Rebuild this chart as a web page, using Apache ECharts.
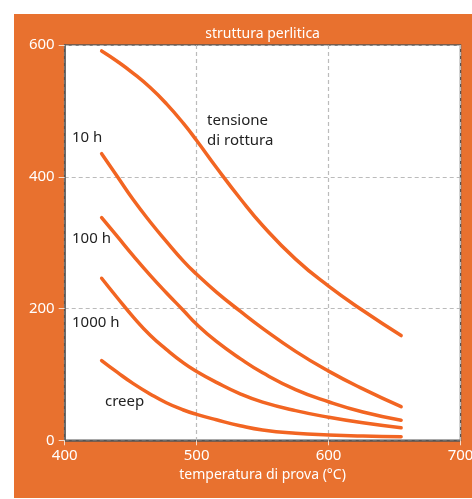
<!DOCTYPE html>
<html>
<head>
<meta charset="utf-8">
<script src="https://cdn.jsdelivr.net/npm/echarts@6/dist/echarts.min.js"></script>
<style>
html,body{margin:0;padding:0;background:#fff;}
#chart{width:472px;height:499px;}
</style>
</head>
<body>
<div id="chart"></div>
<script>
// temperature points (°C) shared by all curves
var temps = [428, 440, 452, 465, 477, 490, 500, 515, 533, 550, 575, 600, 626, 655];
// stress values
var rottura = [591, 575, 557, 535, 511, 481, 455, 414, 367, 326, 275, 234, 197, 159];
var ore10   = [435, 400, 365, 331, 302, 272, 252, 225, 196, 170, 135, 105, 78, 51];
var ore100  = [338, 309, 280, 250, 224, 197, 176, 150, 124, 102.5, 77, 58.5, 43, 30.5];
var ore1000 = [246, 216, 187, 159, 138, 117.5, 104.5, 88, 70.5, 58, 45, 35, 26.5, 19];
var creep   = [121, 103, 86, 70, 57, 46, 39.3, 31.1, 22.1, 15.6, 10.6, 8.1, 6.5, 5.5];

var xTicks = [400, 500, 600, 700];
var yTicks = [0, 200, 400, 600];

var bgOrange = '#E8712F';
var lineOrange = '#F26522';
var font = 'Noto Sans';

function pairs(vals){
	var d = [];
	for(var i = 0; i < temps.length; i++){
		d.push([temps[i], vals[i]]);
	}
	return d;
}

function curve(name, vals){
	return {
		name: name,
		type: 'line',
		smooth: 0.5,
		showSymbol: false,
		silent: true,
		lineStyle: {color: lineOrange, width: 3.5, cap: 'round'},
		data: pairs(vals)
	};
}

var chart = echarts.init(document.getElementById('chart'));

var option = {
	backgroundColor: '#fff',
	animation: false,
	graphic: [
		{type: 'rect', z: -10, shape: {x: 14, y: 14, width: 458, height: 484}, style: {fill: bgOrange}},
		{type: 'text', x: 262.6, y: 34, z: 100,
			style: {text: 'struttura perlitica', fill: '#fff', font: '14px "Noto Sans"', align: 'center', verticalAlign: 'middle'}},
		{type: 'text', left: 207, top: 111, z: 100,
			style: {text: 'tensione\ndi rottura', fill: '#222', font: '15px "Noto Sans"', lineHeight: 20}},
		{type: 'text', left: 72, top: 130, z: 100, style: {text: '10 h', fill: '#222', font: '15px "Noto Sans"'}},
		{type: 'text', left: 72, top: 231, z: 100, style: {text: '100 h', fill: '#222', font: '15px "Noto Sans"'}},
		{type: 'text', left: 72, top: 315, z: 100, style: {text: '1000 h', fill: '#222', font: '15px "Noto Sans"'}},
		{type: 'text', left: 105, top: 394, z: 100, style: {text: 'creep', fill: '#222', font: '15px "Noto Sans"'}}
	],
	grid: {
		left: 64.7, top: 45, right: 11.5, bottom: 58.7,
		outerBoundsMode: 'none',
		containLabel: false,
		show: true,
		backgroundColor: '#fff',
		borderColor: '#555',
		borderWidth: 1.5
	},
	xAxis: {
		type: 'value',
		min: xTicks[0], max: xTicks[xTicks.length-1], interval: 100,
		name: 'temperatura di prova (°C)',
		nameLocation: 'middle',
		nameGap: 25,
		nameTextStyle: {color: '#fff', fontFamily: font, fontSize: 14},
		axisLine: {show: true, lineStyle: {color: '#555', width: 1.5}},
		axisTick: {show: true, length: 5, lineStyle: {color: '#f4dccb'}},
		axisLabel: {color: '#fff', fontFamily: font, fontSize: 15, margin: 8},
		splitLine: {show: true, lineStyle: {color: '#bbb', type: [4, 3], width: 1.2}}
	},
	yAxis: {
		type: 'value',
		min: yTicks[0], max: yTicks[yTicks.length-1], interval: 200,
		axisLine: {show: true, lineStyle: {color: '#555', width: 1.5}},
		axisTick: {show: true, length: 6, lineStyle: {color: '#f4dccb'}},
		axisLabel: {color: '#fff', fontFamily: font, fontSize: 15, margin: 10},
		splitLine: {show: true, lineStyle: {color: '#bbb', type: [4, 3], width: 1.2}}
	},
	series: [
		curve('tensione di rottura', rottura),
		curve('10 h', ore10),
		curve('100 h', ore100),
		curve('1000 h', ore1000),
		curve('creep', creep)
	]
};

chart.setOption(option);
</script>
</body>
</html>
